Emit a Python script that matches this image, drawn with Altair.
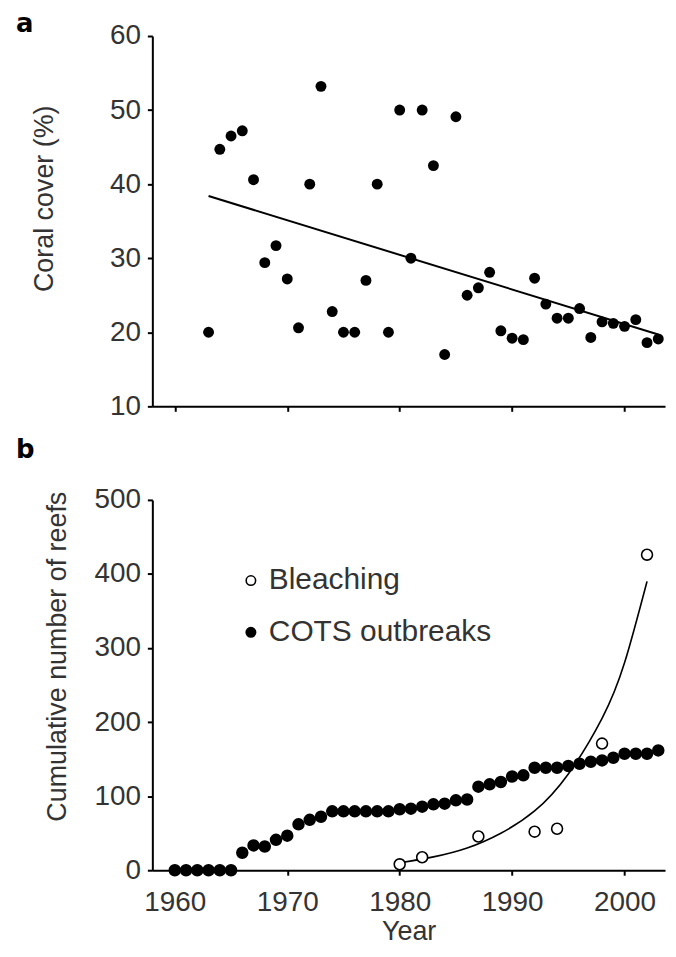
import altair as alt
import pandas as pd

# ---------------- data ----------------
# Panel a: coral cover (%) per year
years_a = [1963, 1964, 1965, 1966, 1967, 1968, 1969, 1970, 1971, 1972,
           1973, 1974, 1975, 1976, 1977, 1978, 1979, 1980, 1981, 1982,
           1983, 1984, 1985, 1986, 1987, 1988, 1989, 1990, 1991, 1992,
           1993, 1994, 1995, 1996, 1997, 1998, 1999, 2000, 2001, 2002, 2003]
cover_a = [20.0, 44.7, 46.5, 47.2, 40.6, 29.4, 31.7, 27.2, 20.6, 40.0,
           53.2, 22.8, 20.0, 20.0, 27.0, 40.0, 20.0, 50.0, 30.0, 50.0,
           42.5, 17.0, 49.1, 25.0, 26.0, 28.1, 20.2, 19.2, 19.0, 27.3,
           23.8, 21.9, 21.9, 23.2, 19.3, 21.4, 21.2, 20.8, 21.7, 18.6, 19.1]
trend_years = [1963, 2003]
trend_cover = [38.4, 19.7]

# Panel b: cumulative number of reefs
years_b = [1960, 1961, 1962, 1963, 1964, 1965, 1966, 1967, 1968, 1969,
           1970, 1971, 1972, 1973, 1974, 1975, 1976, 1977, 1978, 1979,
           1980, 1981, 1982, 1983, 1984, 1985, 1986, 1987, 1988, 1989,
           1990, 1991, 1992, 1993, 1994, 1995, 1996, 1997, 1998, 1999,
           2000, 2001, 2002, 2003]
cots = [0, 0, 0, 0, 0, 0, 23.6, 33.5, 32.0, 41.0,
        46.6, 62.0, 68.0, 72.2, 79.5, 79.5, 79.5, 79.5, 79.5, 79.5,
        82.3, 83.1, 85.8, 89.0, 89.9, 94.4, 95.5, 112.8, 116.0, 119.1,
        126.5, 128.1, 138.4, 138.4, 138.4, 140.7, 143.8, 146.5, 148.3, 151.9,
        157.3, 157.3, 157.3, 161.8]
bleach_years = [1980, 1982, 1987, 1992, 1994, 1998, 2002]
bleach_counts = [8, 17.5, 45.5, 52, 56, 171, 426]
curve_years = [1980, 1983, 1986, 1989, 1992, 1995, 1998, 2000, 2002]
curve_counts = [10, 18, 30, 50, 80, 130, 205, 280, 390]

series_names = ["Bleaching", "COTS outbreaks"]
year_ticks = [1960, 1970, 1980, 1990, 2000]
cover_ticks = [10, 20, 30, 40, 50, 60]
reef_ticks = [0, 100, 200, 300, 400, 500]

# ---------------- chart ----------------
FONT = "Liberation Sans"
W, H = 515, 372
x_scale = alt.Scale(domain=[1958, 2003.6], nice=False, zero=False)

df_a = pd.DataFrame({"year": years_a, "cover": cover_a})
df_trend = pd.DataFrame({"year": trend_years, "cover": trend_cover})

xa = alt.X("year:Q", scale=x_scale,
           axis=alt.Axis(values=year_ticks, labels=False, title=None))
ya = alt.Y("cover:Q", scale=alt.Scale(domain=[10, 60], nice=False, zero=False),
           axis=alt.Axis(values=cover_ticks, title="Coral cover (%)",
                         titleX=-94, titleY=163, titleAngle=270,
                         titleAlign="center", titleBaseline="bottom"))

trend = alt.Chart(df_trend).mark_line(color="black", strokeWidth=2).encode(x=xa, y=ya)
pts_a = alt.Chart(df_a).mark_circle(size=120, color="black", opacity=1).encode(x=xa, y=ya)
lab_a = alt.Chart(pd.DataFrame({"t": ["a"]})).mark_text(
    font="DejaVu Sans", fontSize=26, fontWeight="bold", align="left",
    baseline="alphabetic", color="black"
).encode(text="t:N", x=alt.value(-137), y=alt.value(-4))

panel_a = alt.layer(trend, pts_a, lab_a).properties(width=W, height=H)

df_b = pd.DataFrame({
    "year": years_b + bleach_years,
    "count": cots + bleach_counts,
    "series": [series_names[1]] * len(years_b) + [series_names[0]] * len(bleach_years),
})
df_curve = pd.DataFrame({"year": curve_years, "count": curve_counts})

xb = alt.X("year:Q", scale=x_scale,
           axis=alt.Axis(values=year_ticks, format="d", title="Year",
                         labelPadding=13, titlePadding=3, labelFlush=False))
yb = alt.Y("count:Q", scale=alt.Scale(domain=[0, 500], nice=False),
           axis=alt.Axis(values=reef_ticks, title="Cumulative number of reefs",
                         titleX=-81, titleY=157, titleAngle=270,
                         titleAlign="center", titleBaseline="bottom"))

curve = alt.Chart(df_curve).mark_line(
    color="black", strokeWidth=1.6, interpolate="natural"
).encode(x=xb, y=yb)
pts_b = alt.Chart(df_b).mark_circle(
    size=120, stroke="black", strokeWidth=1.6, opacity=1
).encode(
    x=xb, y=yb,
    fill=alt.Fill("series:N",
                  scale=alt.Scale(domain=series_names, range=["white", "black"]),
                  legend=alt.Legend(title=None, orient="none", legendX=84, legendY=66,
                                    labelFont=FONT, labelFontSize=30, labelColor="#333",
                                    labelLimit=400,
                                    symbolType="circle", symbolSize=90,
                                    symbolStrokeColor="black", symbolStrokeWidth=1.6,
                                    rowPadding=22, labelOffset=3, padding=0)),
)
lab_b = alt.Chart(pd.DataFrame({"t": ["b"]})).mark_text(
    font="DejaVu Sans", fontSize=26, fontWeight="bold", align="left",
    baseline="alphabetic", color="black"
).encode(text="t:N", x=alt.value(-137), y=alt.value(-42))

panel_b = alt.layer(curve, pts_b, lab_b).properties(width=W, height=H)

chart = alt.vconcat(panel_a, panel_b, spacing=94, bounds="flush").resolve_legend(
    fill="independent"
).properties(
    padding={"left": 7, "top": 0, "right": 0, "bottom": 0}
).configure_axis(
    domainColor="black", domainWidth=2, tickColor="black", tickWidth=2,
    tickSize=5, grid=False, labelFont=FONT, labelFontSize=28, labelColor="#333",
    labelPadding=7, titleFont=FONT, titleFontSize=27, titleFontWeight="normal",
    titleColor="#333"
).configure_view(stroke="transparent")

chart.save("out.html", embed_options={"renderer": "svg", "actions": False})
